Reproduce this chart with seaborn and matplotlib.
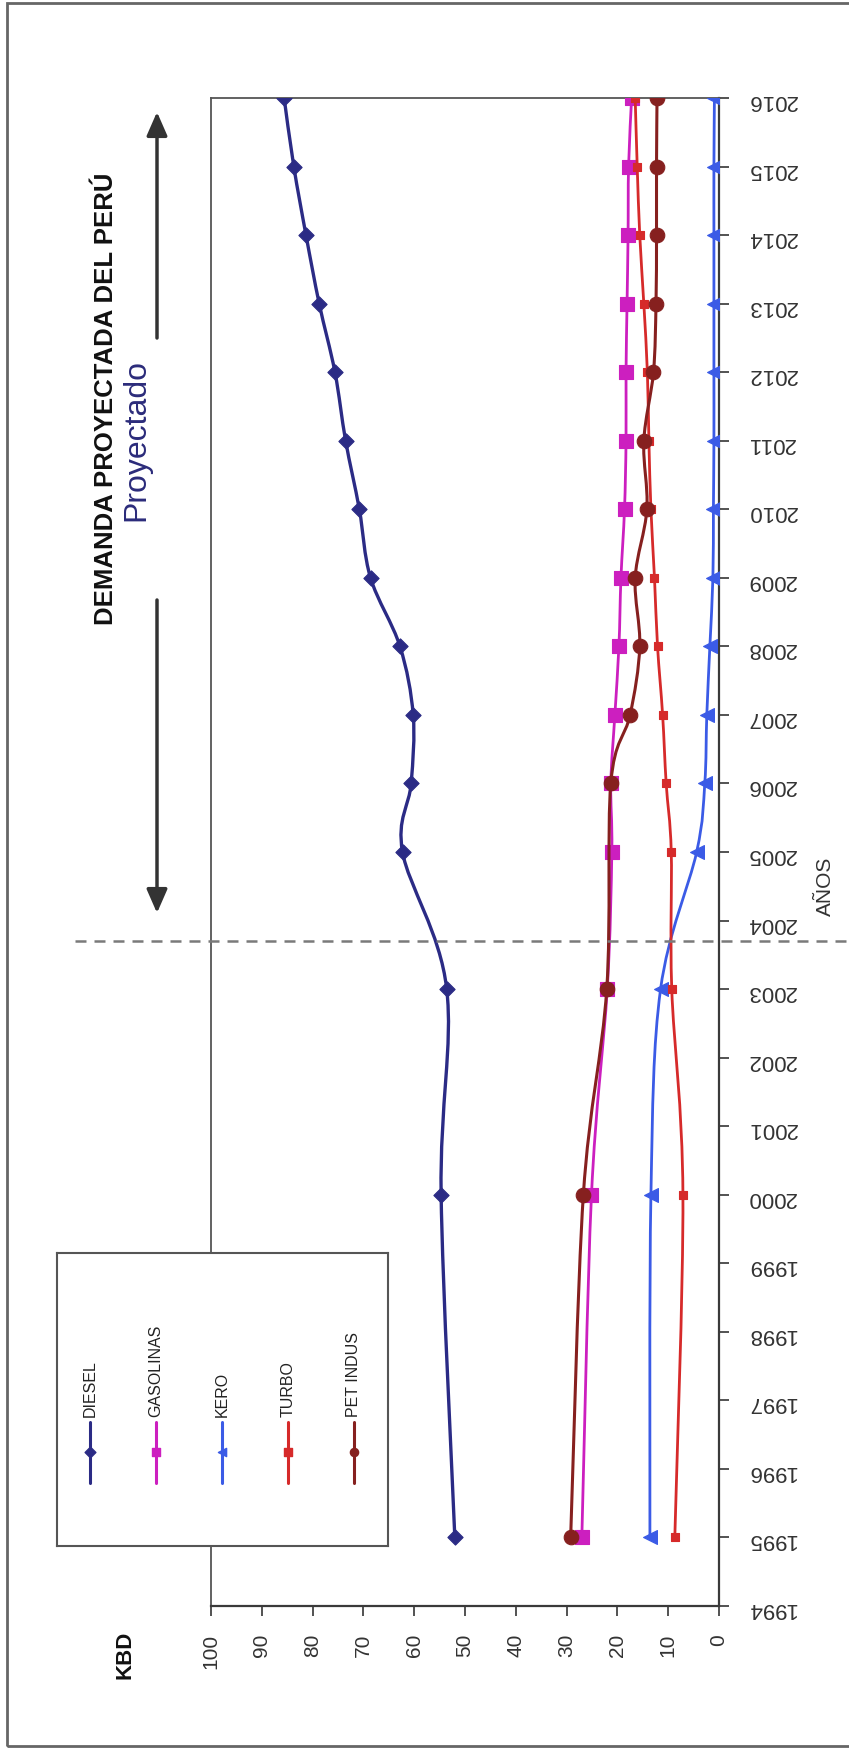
import numpy as np
import pandas as pd
import matplotlib
matplotlib.use("Agg")
import matplotlib.pyplot as plt
import seaborn as sns
from matplotlib.path import Path
from matplotlib.patches import PathPatch, Rectangle
from matplotlib.lines import Line2D
from matplotlib.transforms import blended_transform_factory

# ---- data (KBD per year) ----
YEARS = [1995, 2000, 2003, 2005, 2006, 2007, 2008, 2009, 2010, 2011, 2012, 2013, 2014, 2015, 2016]
DIESEL = [52.0, 54.7, 53.6, 62.3, 60.6, 60.2, 62.8, 68.6, 70.8, 73.5, 75.6, 78.7, 81.3, 83.7, 85.6]
GASOLINAS = [27.0, 25.1, 22.0, 21.1, 21.3, 20.5, 19.7, 19.3, 18.6, 18.3, 18.3, 18.1, 17.9, 17.8, 17.2]
KERO = [13.6, 13.4, 11.5, 4.4, 2.8, 2.4, 1.8, 1.2, 1.1, 1.0, 1.0, 1.0, 1.0, 1.0, 0.9]
TURBO = [8.7, 7.1, 9.3, 9.4, 10.4, 11.1, 12.1, 12.7, 13.4, 13.8, 14.1, 14.8, 15.6, 16.1, 16.5]
PET_INDUS = [29.2, 26.7, 22.1, np.nan, 21.3, 17.5, 15.6, 16.5, 14.2, 14.8, 12.9, 12.4, 12.3, 12.3, 12.2]

SERIES = ["DIESEL", "GASOLINAS", "KERO", "TURBO", "PET INDUS"]
VALUES = [DIESEL, GASOLINAS, KERO, TURBO, PET_INDUS]
VALUE_TICKS = list(range(0, 101, 10))
YEAR_TICKS = list(range(1994, 2017))
SPLIT_YEAR = 2003.7

df = pd.DataFrame({
    "anio": YEARS * len(SERIES),
    "kbd": [v for vals in VALUES for v in vals],
    "serie": [s for s in SERIES for _ in YEARS],
})

STYLE = {
    "DIESEL":    dict(color="#2B2B85", marker="D", s=60,  lw=2.4, lg_s=30),
    "GASOLINAS": dict(color="#CC1FBF", marker="s", s=100, lw=2.0, lg_s=40),
    "KERO":      dict(color="#3B5BE6", marker="<", s=100, lw=2.0, lg_s=35),
    "TURBO":     dict(color="#D62A2A", marker="s", s=34,  lw=2.0, lg_s=30),
    "PET INDUS": dict(color="#86201F", marker="o", s=110, lw=2.2, lg_s=35),
}

W, H = 849, 1750


def fx(px):
    return px / W


def fy(py):
    return 1 - py / H


def smooth_path(xs, ys):
    """Catmull-Rom spline through the points, as cubic Bezier segments."""
    pts = np.column_stack([xs, ys])
    n = len(pts)
    verts = [pts[0]]
    codes = [Path.MOVETO]
    for i in range(n - 1):
        p0 = pts[max(i - 1, 0)]
        p1 = pts[i]
        p2 = pts[i + 1]
        p3 = pts[min(i + 2, n - 1)]
        c1 = p1 + (p2 - p0) / 6.0
        c2 = p2 - (p3 - p1) / 6.0
        verts += [c1, c2, p2]
        codes += [Path.CURVE4] * 3
    return Path(verts, codes)


sns.set_theme(style="white")
plt.rcParams["font.family"] = ["Liberation Sans", "DejaVu Sans"]

fig = plt.figure(figsize=(W / 100, H / 100), dpi=100)
fig.patch.set_facecolor("white")

ax = fig.add_axes([fx(211), fy(1606), (719 - 211) / W, (1606 - 98) / H])
ax.set_facecolor("white")

for k, name in enumerate(SERIES):
    st = STYLE[name]
    sub = df[df["serie"] == name].dropna()
    path = smooth_path(sub["kbd"].to_numpy(), sub["anio"].to_numpy())
    ax.add_patch(PathPatch(path, facecolor="none", edgecolor=st["color"],
                           lw=st["lw"], zorder=3 + k, capstyle="round", joinstyle="round"))
    sns.scatterplot(data=sub, x="kbd", y="anio", ax=ax, marker=st["marker"], s=st["s"],
                    color=st["color"], edgecolor=st["color"], linewidth=0.8,
                    zorder=3.5 + k, legend=False)

ax.set_xlim(100, 0)
ax.set_ylim(1994, 2016)
ax.set_xlabel("")
ax.set_ylabel("")

ax.set_xticks(VALUE_TICKS)
ax.set_xticklabels([str(v) for v in VALUE_TICKS], rotation=90, fontsize=15, color="#333333")
ax.yaxis.tick_right()
ax.set_yticks(YEAR_TICKS)
ax.set_yticklabels([str(y) for y in YEAR_TICKS], rotation=180, fontsize=16, color="#333333")
ax.tick_params(axis="x", bottom=True, top=False, direction="out", length=7, width=1.3,
               colors="#444444", labelcolor="#333333", pad=13)
ax.tick_params(axis="y", right=True, left=False, labelright=True, labelleft=False,
               direction="out", length=7, width=1.3, colors="#444444",
               labelcolor="#333333", pad=13)

for side in ["left", "top"]:
    ax.spines[side].set_color("#555555")
    ax.spines[side].set_linewidth(1.3)
for side in ["right", "bottom"]:
    ax.spines[side].set_color("#3a3a3a")
    ax.spines[side].set_linewidth(1.6)
for sp in ax.spines.values():
    sp.set_visible(True)

# boundary between historical and projected years
trans = blended_transform_factory(fig.transFigure, ax.transData)
fig.add_artist(Line2D([fx(75), 1.0], [SPLIT_YEAR, SPLIT_YEAR], transform=trans,
                      color="#7a7a7a", lw=1.8, dashes=(4.4, 3.2), zorder=2))

# arrows spanning the projected period
for y_from, y_to in [(338, 112), (600, 913)]:
    ax.annotate("", xy=(fx(157), fy(y_to)), xytext=(fx(157), fy(y_from)),
                xycoords="figure fraction", textcoords="figure fraction",
                arrowprops=dict(arrowstyle="-|>,head_length=0.8,head_width=0.35",
                                color="#333333", lw=2.5, mutation_scale=18,
                                shrinkA=0, shrinkB=0))

fig.text(fx(106), fy(399), "DEMANDA PROYECTADA DEL PERÚ", rotation=90, ha="center",
         va="center", fontsize=18.5, fontweight="bold", color="#111111")
fig.text(fx(136), fy(440), "Proyectado", rotation=90, ha="center", va="center",
         fontsize=23, color="#2B2B7A")
fig.text(fx(125), fy(1655), "KBD", rotation=90, ha="center", va="center",
         fontsize=16, fontweight="bold", color="#111111")
fig.text(fx(825), fy(886), "AÑOS", rotation=90, ha="center", va="center",
         fontsize=15, color="#333333")

# legend box drawn over the plot frame
lax = fig.add_axes([fx(57), fy(1546), (388 - 57) / W, (1546 - 1253) / H], zorder=10)
lax.set_xlim(0, 331)
lax.set_ylim(293, 0)
lax.set_facecolor("white")
lax.set_xticks([])
lax.set_yticks([])
for sp in lax.spines.values():
    sp.set_visible(True)
    sp.set_color("#555555")
    sp.set_linewidth(1.5)
for i, name in enumerate(SERIES):
    st = STYLE[name]
    lx = 33 + i * 66
    lax.plot([lx, lx], [169, 230], color=st["color"], lw=2.2)
    lax.scatter([lx], [199], marker=st["marker"], s=st["lg_s"], color=st["color"],
                edgecolor=st["color"], zorder=3)
    lax.text(lx, 164, name, rotation=90, ha="center", va="bottom", fontsize=11.5,
             color="#222222")

# outer frame
fig.add_artist(Rectangle((fx(7), fy(1746)), (870 - 7) / W, (1746 - 3) / H,
                         transform=fig.transFigure, fill=False, edgecolor="#666666",
                         lw=2.0, clip_on=False, zorder=0))

fig.savefig("out.png", dpi=100, facecolor="white")
